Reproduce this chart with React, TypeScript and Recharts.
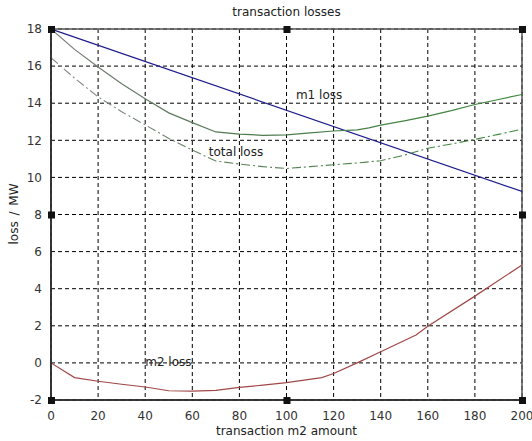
import React from 'react';
import {
  LineChart,
  Line,
  XAxis,
  YAxis,
  CartesianGrid,
  ReferenceDot,
  ReferenceArea,
} from 'recharts';

// ---- data ----
const xTicks = [0, 20, 40, 60, 80, 100, 120, 140, 160, 180, 200];
const yTicks = [-2, 0, 2, 4, 6, 8, 10, 12, 14, 16, 18];

const m1X = [0, 200];
const m1Y = [18, 9.24];

const greenX = [0, 10, 20, 30, 40, 50, 60, 70, 80, 90, 100, 110, 120, 130, 135, 140, 150, 160, 170, 180, 190, 200];
const greenY = [18, 16.9, 15.95, 15.05, 14.24, 13.48, 12.95, 12.45, 12.33, 12.27, 12.29, 12.4, 12.5, 12.56, 12.67, 12.82, 13.05, 13.3, 13.6, 13.93, 14.2, 14.47];

const totalX = [0, 10, 20, 30, 40, 50, 60, 70, 80, 90, 100, 110, 120, 130, 140, 150, 160, 170, 180, 190, 200];
const totalY = [16.45, 15.35, 14.34, 13.54, 12.83, 12.1, 11.47, 10.88, 10.72, 10.58, 10.48, 10.58, 10.68, 10.78, 10.9, 11.2, 11.57, 11.8, 12.05, 12.32, 12.6];

const m2X = [0, 10, 20, 30, 40, 50, 60, 70, 80, 90, 100, 115, 120, 130, 140, 155, 160, 180, 200];
const m2Y = [0, -0.79, -0.99, -1.15, -1.3, -1.5, -1.52, -1.48, -1.32, -1.2, -1.06, -0.79, -0.57, 0.0, 0.6, 1.5, 1.98, 3.6, 5.28];

const noteText = ['m1 loss', 'total loss', 'm2 loss'];
const noteX = [104, 67, 40];
const noteY = [14.45, 11.4, 0.05];

const handleX = [0, 100, 200, 0, 200, 0, 100, 200];
const handleY = [18, 18, 18, 8, 8, -2, -2, -2];

const build = (xs: number[], ys: number[]) => xs.map((x, i) => ({ x, y: ys[i] }));
const m1Data = build(m1X, m1Y);
const greenData = build(greenX, greenY);
const totalData = build(totalX, totalY);
const m2Data = build(m2X, m2Y);

const FONT = '"DejaVu Sans", "Liberation Sans", sans-serif';

const HandleShape = (props: any) => {
  const { cx, cy } = props;
  if (cx == null || cy == null) return null;
  return <rect x={cx - 3} y={cy - 3} width={7} height={7} fill="#111" />;
};

const NoteLabel = (text: string) => (props: any) => {
  const { viewBox } = props;
  const cx = viewBox?.cx ?? viewBox?.x ?? 0;
  const cy = viewBox?.cy ?? viewBox?.y ?? 0;
  return (
    <text x={cx} y={cy} dy="0.35em" fontSize={12} fontFamily={FONT} fill="#222">
      {text}
    </text>
  );
};

export default function App() {
  return (
    <div
      style={{
        position: 'absolute',
        left: 0,
        top: 0,
        width: 532,
        height: 441,
        background: '#fff',
        fontFamily: FONT,
      }}
    >
      <LineChart
        width={532}
        height={441}
        margin={{ top: 29, right: 10, bottom: 11, left: 0 }}
      >
        <defs>
          <linearGradient id="gGreen" x1="0" y1="0" x2="1" y2="0">
            <stop offset="0%" stopColor="#7a7a7a" />
            <stop offset="40%" stopColor="#4f7a4f" />
            <stop offset="100%" stopColor="#3c8a3c" />
          </linearGradient>
          <linearGradient id="gTotal" x1="0" y1="0" x2="1" y2="0">
            <stop offset="0%" stopColor="#8a8a8a" />
            <stop offset="40%" stopColor="#5a805a" />
            <stop offset="100%" stopColor="#3c8a3c" />
          </linearGradient>
        </defs>
        <CartesianGrid
          stroke="#000"
          strokeDasharray="4 3"
          horizontalValues={yTicks}
          verticalValues={xTicks}
        />
        <XAxis
          dataKey="x"
          type="number"
          domain={[0, 200]}
          ticks={xTicks}
          allowDataOverflow
          interval={0}
          height={30}
          tickLine={false}
          tickMargin={5}
          axisLine={{ stroke: '#222', strokeWidth: 1.5 }}
          tick={{ fontSize: 12, fontFamily: FONT, fill: '#333' }}
        />
        <YAxis
          type="number"
          domain={[-2, 18]}
          ticks={yTicks}
          allowDataOverflow
          interval={0}
          width={51}
          tickLine={false}
          tickMargin={3}
          axisLine={{ stroke: '#222', strokeWidth: 1.5 }}
          tick={{ fontSize: 12, fontFamily: FONT, fill: '#333' }}
        />
        <ReferenceArea
          x1={0}
          x2={200}
          y1={-2}
          y2={18}
          fill="none"
          stroke="#555"
          strokeWidth={1.5}
          ifOverflow="visible"
        />
        <Line
          data={m1Data}
          dataKey="y"
          type="linear"
          stroke="#1c1c8c"
          strokeWidth={1.2}
          dot={false}
          isAnimationActive={false}
        />
        <Line
          data={greenData}
          dataKey="y"
          type="linear"
          stroke="url(#gGreen)"
          strokeWidth={1.2}
          dot={false}
          isAnimationActive={false}
        />
        <Line
          data={totalData}
          dataKey="y"
          type="linear"
          stroke="url(#gTotal)"
          strokeWidth={1.1}
          strokeDasharray="9 3 2 3"
          dot={false}
          isAnimationActive={false}
        />
        <Line
          data={m2Data}
          dataKey="y"
          type="linear"
          stroke="#a04848"
          strokeWidth={1.2}
          dot={false}
          isAnimationActive={false}
        />
        {noteText.map((t, i) => (
          <ReferenceDot
            key={t}
            x={noteX[i]}
            y={noteY[i]}
            r={0}
            fill="none"
            stroke="none"
            ifOverflow="visible"
            label={NoteLabel(t)}
          />
        ))}
        {handleX.map((hx, i) => (
          <ReferenceDot
            key={'h' + i}
            x={hx}
            y={handleY[i]}
            ifOverflow="visible"
            shape={HandleShape}
          />
        ))}
      </LineChart>
      <div
        style={{
          position: 'absolute',
          left: 51,
          width: 471,
          top: 5,
          textAlign: 'center',
          fontSize: 12,
          color: '#222',
          lineHeight: '14px',
        }}
      >
        transaction losses
      </div>
      <div
        style={{
          position: 'absolute',
          left: 51,
          width: 471,
          top: 424,
          textAlign: 'center',
          fontSize: 12,
          color: '#222',
          lineHeight: '14px',
        }}
      >
        transaction m2 amount
      </div>
      <div
        style={{
          position: 'absolute',
          left: 14,
          top: 214,
          transform: 'translate(-50%, -50%) rotate(-90deg)',
          fontSize: 12,
          color: '#222',
          lineHeight: '14px',
          whiteSpace: 'nowrap',
          wordSpacing: '2px',
        }}
      >
        loss / MW
      </div>
    </div>
  );
}
